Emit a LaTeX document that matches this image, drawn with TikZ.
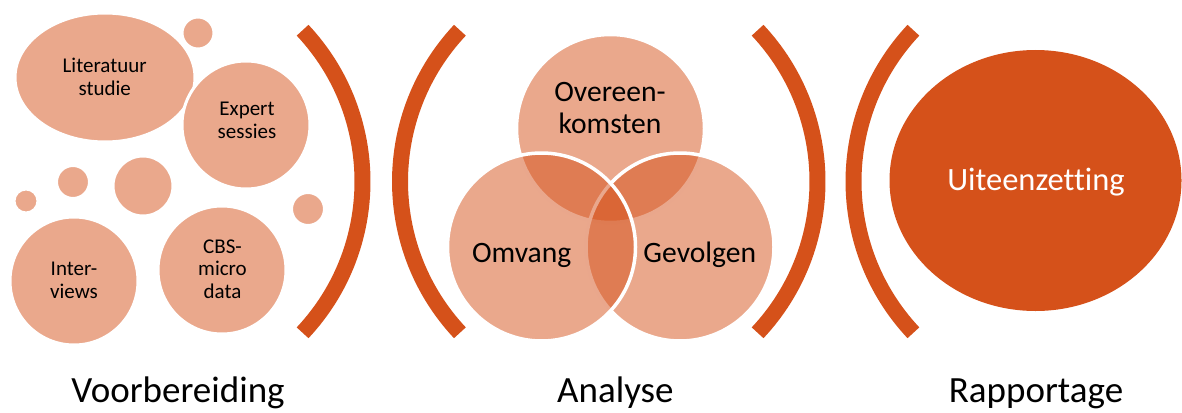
\documentclass[tikz,border=0pt]{standalone}
\usepackage{fontspec}
\setmainfont{Carlito}[Ligatures=NoCommon]
\definecolor{org}{RGB}{213,81,26}
\begin{document}
\begin{tikzpicture}[x=1pt,y=-1pt,
  blob/.style={fill=org, fill opacity=0.5, draw=white, draw opacity=1, line width=3pt},
  brk/.style={draw=org, line width=16pt, line cap=butt},
  small/.style={anchor=base, align=center, inner sep=0pt, text=black, font=\fontsize{21}{22.5}\selectfont},
  venn/.style={anchor=base, align=center, inner sep=0pt, text=black, font=\fontsize{29.6}{31.6}\selectfont},
  stage/.style={anchor=base, inner sep=0pt, text=black, font=\fontsize{37}{40}\selectfont}]
\useasboundingbox (0,0) rectangle (1182,412);
% --- Voorbereiding shapes
\path[blob] (105,77.5) ellipse[x radius=90pt, y radius=64.5pt];
\path[blob] (198,33) circle[radius=16pt];
\path[blob] (246,125) circle[radius=64pt];
\path[blob] (73,182) circle[radius=16.5pt];
\path[blob] (26,201) circle[radius=12pt];
\path[blob] (143,186) circle[radius=30pt];
\path[blob] (308,209) circle[radius=16.5pt];
\path[blob] (74,281) circle[radius=64pt];
\path[blob] (222,270) circle[radius=64pt];
\node[small] (lit) at (104.7,95) {Literatuur\\studie};
\node[small] (exp) at (247,138.3) {Expert\\sessies};
\node[small] (int) at (74,298.3) {Inter-\\views};
\node[small] (cbs) at (222.5,298.3) {CBS-\\micro\\data};
% --- brackets
\coordinate (c1) at (141.5,181.5);
\coordinate (c2) at (621,181.5);
\coordinate (c3) at (596.5,181.5);
\coordinate (c4) at (1074.5,181.5);
\draw[brk] ([shift={(-43.2:221pt)}]c1) arc[start angle=-43.2, end angle=43.2, radius=221pt];
\draw[brk] ([shift={(136.8:221pt)}]c2) arc[start angle=136.8, end angle=223.2, radius=221pt];
\draw[brk] ([shift={(-43.2:221pt)}]c3) arc[start angle=-43.2, end angle=43.2, radius=221pt];
\draw[brk] ([shift={(136.8:221pt)}]c4) arc[start angle=136.8, end angle=223.2, radius=221pt];
% --- Venn
\path[blob, line width=3.5pt] (610.5,128.5) circle[radius=94pt];
\path[blob, line width=3.5pt] (680,247) circle[radius=94pt];
\path[blob, line width=3.5pt] (541.5,247) circle[radius=94pt];
\node[venn] (ove) at (610,133.3) {Overeen-\\komsten};
\node[venn] (omv) at (521.7,262.7) {Omvang};
\node[venn] (gev) at (699.8,262.7) {Gevolgen};
% --- Rapportage
\fill[org] (1035.5,180.5) ellipse[x radius=146pt, y radius=130.5pt];
\node[anchor=base, inner sep=0pt, text=white, font=\fontsize{32.5}{36}\selectfont] (uit) at (1036,190) {Uiteenzetting};
% --- stage labels
\node[stage] (s1) at (178,402.7) {Voorbereiding};
\node[stage] (s2) at (615.4,402.7) {Analyse};
\node[stage] (s3) at (1036,402.7) {Rapportage};
\end{tikzpicture}
\end{document}
